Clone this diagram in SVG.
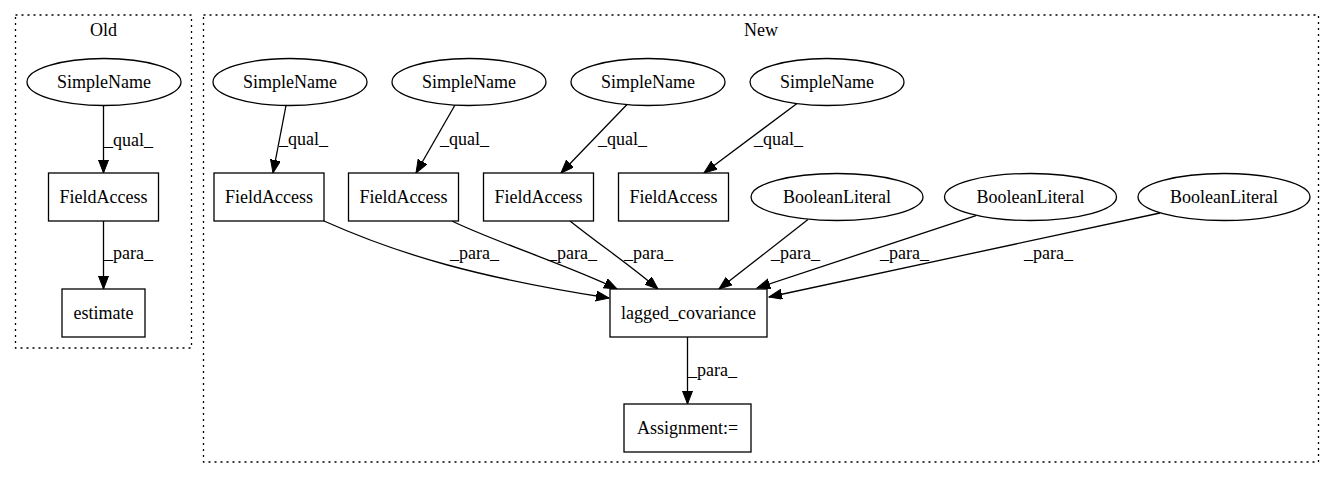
<svg xmlns="http://www.w3.org/2000/svg" width="1336" height="480" viewBox="0 0 1336 480">
<defs>
<marker id="arr" markerUnits="userSpaceOnUse" markerWidth="14" markerHeight="12" refX="13" refY="5" orient="auto">
<path d="M0,0 L13,5 L0,10 Z" fill="#000" stroke="#000" stroke-width="1"/>
</marker>
</defs>
<style>
text{font-family:"Liberation Serif","Times New Roman",serif;font-size:18px;fill:#000}
.c{text-anchor:middle}
.n{fill:#fff;stroke:#000;stroke-width:1.3}
.cl{fill:none;stroke:#000;stroke-width:1.3;stroke-dasharray:2,4}
.e{fill:none;stroke:#000;stroke-width:1.3;marker-end:url(#arr)}
</style>
<rect width="1336" height="480" fill="#fff"/>
<g id="cluster_old">
<rect class="cl" x="15.5" y="15" width="176" height="333"/>
<text class="c" x="103.5" y="36">Old</text>
</g>
<g id="cluster_new">
<rect class="cl" x="203.5" y="15" width="1115" height="447"/>
<text class="c" x="761" y="36">New</text>
</g>
<g id="connectors">
<path class="e" d="M103.5,105.5 L103.5,173"/>
<path class="e" d="M103.5,221 L103.5,289"/>
<path class="e" d="M286,105.5 L273,173"/>
<path class="e" d="M455,105 L416,173"/>
<path class="e" d="M627,104.5 L561,173"/>
<path class="e" d="M797,103.5 L704,173"/>
<path class="e" d="M324,221 C400,255 480,278 609,298"/>
<path class="e" d="M452,221 C490,240 570,266 617,289"/>
<path class="e" d="M570,221 C600,245 630,265 658,289"/>
<path class="e" d="M808,219.6 L719,289"/>
<path class="e" d="M976,215.7 L757,288"/>
<path class="e" d="M1160,213 L769,297"/>
<path class="e" d="M687.5,337 L687.5,404"/>
<text x="104" y="146">_qual_</text>
<text x="104" y="259">_para_</text>
<text x="279" y="145">_qual_</text>
<text x="440" y="145">_qual_</text>
<text x="598" y="145">_qual_</text>
<text x="754" y="145">_qual_</text>
<text x="450" y="259">_para_</text>
<text x="548" y="259">_para_</text>
<text x="624" y="259">_para_</text>
<text x="771" y="259">_para_</text>
<text x="880" y="259">_para_</text>
<text x="1024" y="259">_para_</text>
<text x="688" y="376">_para_</text>
</g>
<g id="old_simplename"><ellipse class="n" cx="104" cy="82" rx="77" ry="23.5"/><text class="c" x="104" y="88">SimpleName</text></g>
<g id="old_fieldaccess"><rect class="n" x="48.5" y="173" width="110" height="48"/><text class="c" x="103.5" y="203">FieldAccess</text></g>
<g id="old_estimate"><rect class="n" x="62" y="289" width="83" height="48"/><text class="c" x="103.5" y="319">estimate</text></g>
<g id="sn1"><ellipse class="n" cx="290" cy="82" rx="77" ry="23.5"/><text class="c" x="290" y="88">SimpleName</text></g>
<g id="sn2"><ellipse class="n" cx="469" cy="82" rx="77" ry="23.5"/><text class="c" x="469" y="88">SimpleName</text></g>
<g id="sn3"><ellipse class="n" cx="648" cy="82" rx="77" ry="23.5"/><text class="c" x="648" y="88">SimpleName</text></g>
<g id="sn4"><ellipse class="n" cx="827" cy="82" rx="77" ry="23.5"/><text class="c" x="827" y="88">SimpleName</text></g>
<g id="fa1"><rect class="n" x="214" y="173" width="110" height="48"/><text class="c" x="269" y="203">FieldAccess</text></g>
<g id="fa2"><rect class="n" x="348.5" y="173" width="110" height="48"/><text class="c" x="403.5" y="203">FieldAccess</text></g>
<g id="fa3"><rect class="n" x="483.5" y="173" width="110" height="48"/><text class="c" x="538.5" y="203">FieldAccess</text></g>
<g id="fa4"><rect class="n" x="618.5" y="173" width="110" height="48"/><text class="c" x="673.5" y="203">FieldAccess</text></g>
<g id="bl1"><ellipse class="n" cx="837" cy="197" rx="86" ry="23.5"/><text class="c" x="837" y="203">BooleanLiteral</text></g>
<g id="bl2"><ellipse class="n" cx="1030.5" cy="197" rx="86" ry="23.5"/><text class="c" x="1030.5" y="203">BooleanLiteral</text></g>
<g id="bl3"><ellipse class="n" cx="1224" cy="197" rx="86" ry="23.5"/><text class="c" x="1224" y="203">BooleanLiteral</text></g>
<g id="lagged_covariance"><rect class="n" x="610" y="289" width="157" height="48"/><text class="c" x="688.5" y="319">lagged_covariance</text></g>
<g id="assignment"><rect class="n" x="624" y="404" width="127" height="48"/><text class="c" x="687.5" y="434">Assignment:=</text></g>
</svg>
